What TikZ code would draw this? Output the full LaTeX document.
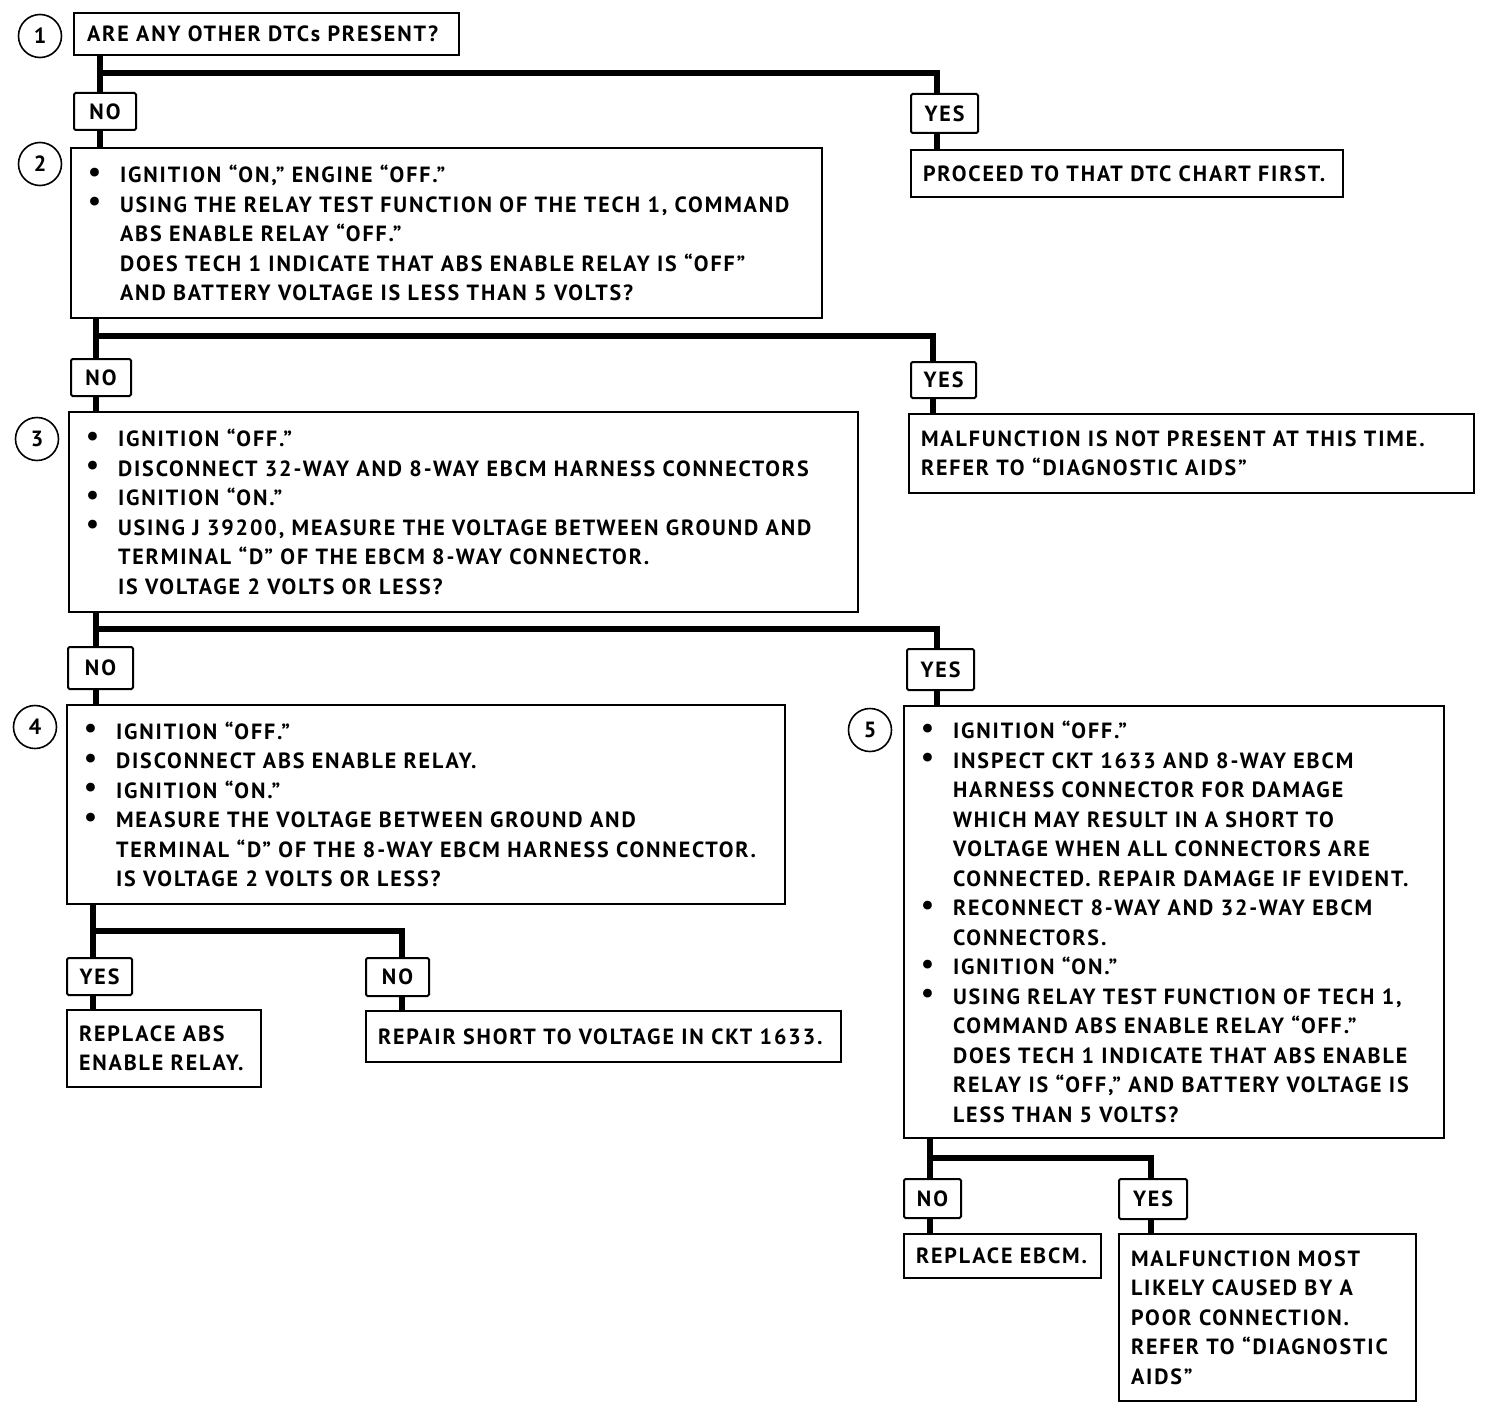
\documentclass[tikz,border=0pt]{standalone}
\usepackage{fontspec}
\setmainfont{PT Sans}[LetterSpace=8.5]
\newcommand\txtfont{\fontsize{22}{29.5}\selectfont\bfseries}
\newcommand\li[1]{\makebox[32pt][l]{\raisebox{1.5pt}{\scalebox{1.3}{\textbullet}}}\mbox{#1}}
\newcommand\lc[1]{\hspace*{32pt}\mbox{#1}}
\begin{document}
\begin{tikzpicture}[x=1pt,y=-1pt,
  every node/.style={font=\txtfont},
  qbox/.style={draw, line width=2pt, anchor=north west, inner xsep=17pt, inner ysep=0pt, align=left},
  tbox/.style={draw, line width=2pt, anchor=north west, inner xsep=12pt, inner ysep=0pt, align=left},
  lab/.style 2 args={draw, line width=2pt, rounded corners=1.5pt, anchor=north west, inner sep=0pt, minimum width=#1, minimum height=#2},
  num/.style={circle, draw, line width=1.6pt, minimum size=43pt, inner sep=0pt, font=\fontsize{22}{22}\selectfont\bfseries},
  conn/.style={line width=6.5pt, line join=miter}]
\useasboundingbox (0,0) rectangle (1488,1410);

% ---- step 1
\node[num] (c1) at (40,36) {1};
\node[tbox, inner xsep=13pt, text width=359pt, minimum height=42pt] (b1) at (73,12) {ARE ANY OTHER DTCs PRESENT?};
\node[lab={62pt}{37pt}] (n1) at (73,92) {NO};
\node[lab={67pt}{39pt}] (y1) at (910,93) {YES};
\node[tbox, text width=408pt, minimum height=47pt] (p1) at (910,149) {PROCEED TO THAT DTC CHART FIRST.};

% ---- step 2
\node[num] (c2) at (40,164) {2};
\node[qbox, text width=717pt, minimum height=170pt] (b2) at (70,147) {%
\li{IGNITION ``ON,'' ENGINE ``OFF.''}\\
\li{USING THE RELAY TEST FUNCTION OF THE TECH 1, COMMAND}\\
\lc{ABS ENABLE RELAY ``OFF.''}\\
\lc{DOES TECH 1 INDICATE THAT ABS ENABLE RELAY IS ``OFF''}\\
\lc{AND BATTERY VOLTAGE IS LESS THAN 5 VOLTS?}};
\node[lab={60pt}{37pt}] (n2) at (70,358) {NO};
\node[lab={65pt}{36pt}] (y2) at (910,361) {YES};
\node[tbox, text width=541pt, minimum height=79pt] (m2) at (908,413) {%
MALFUNCTION IS NOT PRESENT AT THIS TIME.\\
REFER TO ``DIAGNOSTIC AIDS''};

% ---- step 3
\node[num] (c3) at (37,439) {3};
\node[qbox, text width=755pt, minimum height=200pt] (b3) at (68,411) {%
\li{IGNITION ``OFF.''}\\
\li{DISCONNECT 32-WAY AND 8-WAY EBCM HARNESS CONNECTORS}\\
\li{IGNITION ``ON.''}\\
\li{USING J 39200, MEASURE THE VOLTAGE BETWEEN GROUND AND}\\
\lc{TERMINAL ``D'' OF THE EBCM 8-WAY CONNECTOR.}\\
\lc{IS VOLTAGE 2 VOLTS OR LESS?}};
\node[lab={65pt}{42pt}] (n3) at (67,646) {NO};
\node[lab={67pt}{41pt}] (y3) at (906,648) {YES};

% ---- step 4
\node[num] (c4) at (35,727) {4};
\node[qbox, text width=684pt, minimum height=199pt] (b4) at (66,704) {%
\li{IGNITION ``OFF.''}\\
\li{DISCONNECT ABS ENABLE RELAY.}\\
\li{IGNITION ``ON.''}\\
\li{MEASURE THE VOLTAGE BETWEEN GROUND AND}\\
\lc{TERMINAL ``D'' OF THE 8-WAY EBCM HARNESS CONNECTOR.}\\
\lc{IS VOLTAGE 2 VOLTS OR LESS?}};
\node[lab={65pt}{37pt}] (y4) at (66,957) {YES};
\node[lab={63pt}{38pt}] (n4) at (365,957) {NO};
\node[tbox, text width=170pt, minimum height=77pt] (r4) at (66,1009) {%
REPLACE ABS\\
ENABLE RELAY.};
\node[tbox, text width=451pt, minimum height=51pt] (s4) at (365,1010) {REPAIR SHORT TO VOLTAGE IN CKT 1633.};

% ---- step 5
\node[num] (c5) at (870,730) {5};
\node[qbox, text width=506pt, minimum height=432pt] (b5) at (903,705) {%
\li{IGNITION ``OFF.''}\\
\li{INSPECT CKT 1633 AND 8-WAY EBCM}\\
\lc{HARNESS CONNECTOR FOR DAMAGE}\\
\lc{WHICH MAY RESULT IN A SHORT TO}\\
\lc{VOLTAGE WHEN ALL CONNECTORS ARE}\\
\lc{CONNECTED. REPAIR DAMAGE IF EVIDENT.}\\
\li{RECONNECT 8-WAY AND 32-WAY EBCM}\\
\lc{CONNECTORS.}\\
\li{IGNITION ``ON.''}\\
\li{USING RELAY TEST FUNCTION OF TECH 1,}\\
\lc{COMMAND ABS ENABLE RELAY ``OFF.''}\\
\lc{DOES TECH 1 INDICATE THAT ABS ENABLE}\\
\lc{RELAY IS ``OFF,'' AND BATTERY VOLTAGE IS}\\
\lc{LESS THAN 5 VOLTS?}};
\node[lab={57pt}{39pt}] (n5) at (903,1178) {NO};
\node[lab={68pt}{40pt}] (y5) at (1118,1178) {YES};
\node[tbox, text width=173pt, minimum height=44pt] (e5) at (903,1233) {REPLACE EBCM.};
\node[tbox, text width=273pt, minimum height=167pt] (f5) at (1118,1233) {%
MALFUNCTION MOST\\
LIKELY CAUSED BY A\\
POOR CONNECTION.\\
REFER TO ``DIAGNOSTIC\\
AIDS''};

% ---- junction points
\coordinate (t1) at (100,73);  \coordinate (u1) at (937,73);
\coordinate (t2) at (96,336);  \coordinate (u2) at (933,336);
\coordinate (t3) at (96,629);  \coordinate (u3) at (937,629);
\coordinate (t4) at (93,931);  \coordinate (u4) at (402,931);
\coordinate (t5) at (930,1158); \coordinate (u5) at (1151,1158);

% ---- connectors
\draw[conn] (b1.south -| t1) -- (n1.north -| t1);
\draw[conn] (t1) -- (u1) -- (y1.north -| u1);
\draw[conn] (n1.south -| t1) -- (b2.north -| t1);
\draw[conn] (y1.south -| u1) -- (p1.north -| u1);

\draw[conn] (b2.south -| t2) -- (n2.north -| t2);
\draw[conn] (t2) -- (u2) -- (y2.north -| u2);
\draw[conn] (n2.south -| t2) -- (b3.north -| t2);
\draw[conn] (y2.south -| u2) -- (m2.north -| u2);

\draw[conn] (b3.south -| t3) -- (n3.north -| t3);
\draw[conn] (t3) -- (u3) -- (y3.north -| u3);
\draw[conn] (n3.south -| t3) -- (b4.north -| t3);
\draw[conn] (y3.south -| u3) -- (b5.north -| u3);

\draw[conn] (b4.south -| t4) -- (y4.north -| t4);
\draw[conn] (t4) -- (u4) -- (n4.north -| u4);
\draw[conn] (y4.south -| t4) -- (r4.north -| t4);
\draw[conn] (n4.south -| u4) -- (s4.north -| u4);

\draw[conn] (b5.south -| t5) -- (n5.north -| t5);
\draw[conn] (t5) -- (u5) -- (y5.north -| u5);
\draw[conn] (n5.south -| t5) -- (e5.north -| t5);
\draw[conn] (y5.south -| u5) -- (f5.north -| u5);
\end{tikzpicture}
\end{document}
